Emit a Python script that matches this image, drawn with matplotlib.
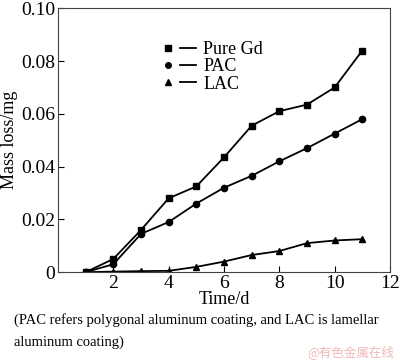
import matplotlib
matplotlib.use("Agg")
import matplotlib.pyplot as plt
from matplotlib.lines import Line2D
from matplotlib.legend_handler import HandlerTuple

plt.rcParams['font.family'] = ['Liberation Serif', 'DejaVu Serif']

# data
days = [1, 2, 3, 4, 5, 6, 7, 8, 9, 10, 11]
pure_gd = [0.0, 0.005, 0.016, 0.028, 0.0325, 0.0435, 0.0555, 0.061, 0.0635, 0.070, 0.084]
pac = [0.0, 0.003, 0.0145, 0.019, 0.026, 0.032, 0.0365, 0.042, 0.047, 0.0525, 0.058]
lac = [0.0, 0.0002, 0.0004, 0.0005, 0.002, 0.004, 0.0065, 0.008, 0.011, 0.012, 0.0125]
names = ["Pure Gd", "PAC", "LAC"]
markers = ["s", "o", "^"]
caption = ["(PAC refers polygonal aluminum coating, and LAC is lamellar",
           "aluminum coating)"]

fig = plt.figure(figsize=(4, 3.6), dpi=100)
ax = fig.add_axes([0.145, 0.244, 0.83, 0.733])

for ys, m in zip([pure_gd, pac, lac], markers):
    ax.plot(days, ys, color="black", lw=1.3, marker=m, ms=4.5)

ax.set_xlim(0, 12)
ax.set_ylim(0, 0.10)
ax.set_xticks([2, 4, 6, 8, 10, 12])
ax.set_yticks([0, 0.02, 0.04, 0.06, 0.08, 0.10])
ax.set_yticklabels(["0", "0.02", "0.04", "0.06", "0.08", "0.10"])
ax.tick_params(direction="in", labelsize=14, length=4, pad=2, top=False, right=False)
for s in ax.spines.values():
    s.set_color("#444444")
ax.set_xlabel("Time/d", fontsize=13, labelpad=-1)
ax.set_ylabel("Mass loss/mg", fontsize=13, labelpad=2)

handles = []
for m in markers:
    h1 = Line2D([], [], color="black", marker=m, ms=4, ls="none")
    h2 = Line2D([], [], color="black", lw=1.3)
    handles.append((h1, h2))
ax.legend(handles, names, handler_map={tuple: HandlerTuple(ndivide=None, pad=0.2)},
          loc="upper left", bbox_to_anchor=(0.28, 0.91), frameon=False,
          fontsize=13, handlelength=2.0, handletextpad=0.4, labelspacing=0.02,
          borderpad=0)

# caption under the chart, one text per line
fig.text(0.035, 1 - 320 / 360, caption[0], fontsize=10.5, va="center", ha="left")
fig.text(0.035, 1 - 342 / 360, caption[1], fontsize=10.5, va="center", ha="left")
fig.text(0.985, 0.004, "@有色金属在线", fontsize=9, color="#f2b8b8", ha="right", va="bottom",
         family=["Noto Sans CJK SC", "DejaVu Sans"])

fig.savefig("out.png", dpi=100)
